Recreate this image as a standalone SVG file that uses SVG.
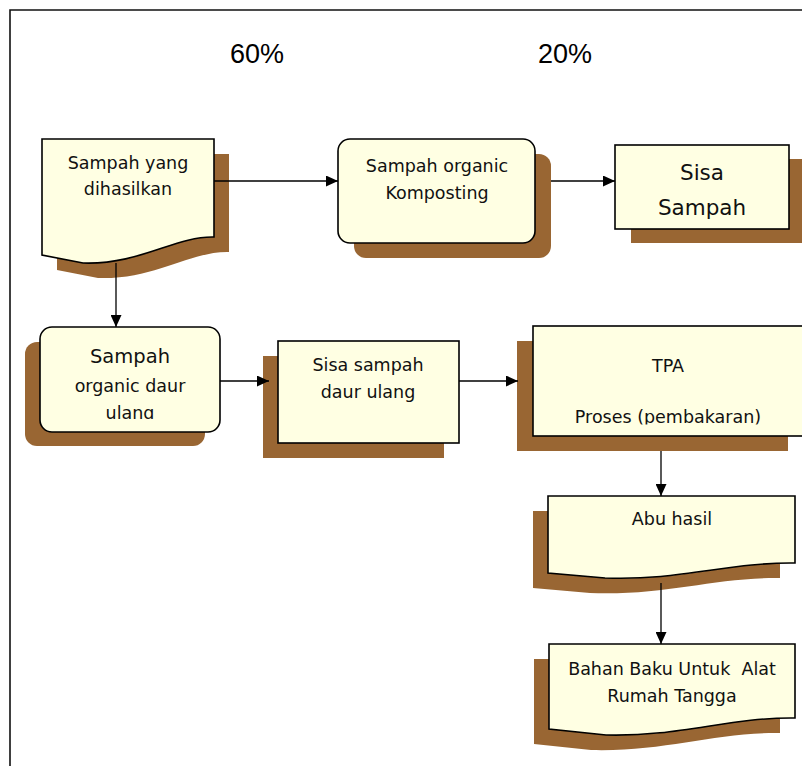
<svg xmlns="http://www.w3.org/2000/svg" xmlns:xlink="http://www.w3.org/1999/xlink" width="802" height="766" viewBox="0 0 802 766">
<style>
.face{fill:#FFFFE3;stroke:#000;stroke-width:1.6}
.shadow{fill:#996633;stroke:none}
.t{font-family:"DejaVu Sans",Verdana,sans-serif;font-size:17.5px;fill:#111;text-anchor:middle}
.pct{font-family:"Liberation Sans",Arial,sans-serif;font-size:27px;fill:#000;text-anchor:middle}
.conn line{stroke:#000;stroke-width:1.3}
.frame{stroke:#111;stroke-width:1.6;fill:none}
</style>
<defs>
<marker id="ah" viewBox="0 0 12 11" refX="12" refY="5.5" markerWidth="12" markerHeight="11" markerUnits="userSpaceOnUse" orient="auto">
<path d="M0,0 L12,5.5 L0,11 Z" fill="#000"/>
</marker>
<path id="doc1" d="M42,139 H214 V237 C175,236 140,265 83,263 L42,255 Z"/>
<path id="doc7" d="M548,496 H795 V563 C730,562 680,581 605,578 L548,573 Z"/>
<path id="doc8" d="M549,644 H795 V718 C730,717 680,737 606,735 L549,729 Z"/>
<clipPath id="c4"><rect x="40" y="327" width="180" height="92"/></clipPath>
<clipPath id="c6"><rect x="533" y="326" width="270" height="98.5"/></clipPath>
</defs>
<rect width="802" height="766" fill="#fff"/>
<path class="frame" d="M10,766 V10 H802"/>
<text class="pct" x="257" y="63">60%</text>
<text class="pct" x="565" y="63">20%</text>

<g id="node1">
<use xlink:href="#doc1" class="shadow" transform="translate(15,15)"/>
<use xlink:href="#doc1" class="face"/>
<text class="t" x="128" y="169">Sampah yang</text>
<text class="t" x="128" y="195">dihasilkan</text>
</g>

<g id="node2">
<rect class="shadow" x="354" y="154" width="197" height="104" rx="12"/>
<rect class="face" x="338" y="139" width="197" height="104" rx="12"/>
<text class="t" x="437" y="172">Sampah organic</text>
<text class="t" x="437" y="199">Komposting</text>
</g>

<g id="node3">
<rect class="shadow" x="631" y="159" width="173" height="84"/>
<rect class="face" x="615" y="145" width="174" height="84"/>
<text class="t" x="702" y="180" style="font-size:21.5px">Sisa</text>
<text class="t" x="702" y="215" style="font-size:21.5px">Sampah</text>
</g>

<g id="node4">
<rect class="shadow" x="25" y="342" width="180" height="104" rx="12"/>
<rect class="face" x="40" y="327" width="180" height="105" rx="12"/>
<g clip-path="url(#c4)">
<text class="t" x="130" y="363" style="font-size:19.5px">Sampah</text>
<text class="t" x="130" y="392">organic daur</text>
<text class="t" x="130" y="419">ulang</text>
</g>
</g>

<g id="node5">
<rect class="shadow" x="263" y="356" width="181" height="102"/>
<rect class="face" x="278" y="341" width="181" height="102"/>
<text class="t" x="368" y="371">Sisa sampah</text>
<text class="t" x="368" y="398">daur ulang</text>
</g>

<g id="node6">
<rect class="shadow" x="517" y="341" width="271" height="110"/>
<rect class="face" x="533" y="326" width="272" height="110"/>
<g clip-path="url(#c6)">
<text class="t" x="668" y="372">TPA</text>
<text class="t" x="668" y="423">Proses (pembakaran)</text>
</g>
</g>

<g id="node7">
<use xlink:href="#doc7" class="shadow" transform="translate(-15,15)"/>
<use xlink:href="#doc7" class="face"/>
<text class="t" x="672" y="525">Abu hasil</text>
</g>

<g id="node8">
<use xlink:href="#doc8" class="shadow" transform="translate(-15,15)"/>
<use xlink:href="#doc8" class="face"/>
<text class="t" x="672" y="675" xml:space="preserve" style="white-space:pre">Bahan Baku Untuk  Alat</text>
<text class="t" x="672" y="702">Rumah Tangga</text>
</g>

<g id="connectors" class="conn">
<line x1="214" y1="181" x2="338" y2="181" marker-end="url(#ah)"/>
<line x1="551" y1="181" x2="615" y2="181" marker-end="url(#ah)"/>
<line x1="116" y1="263" x2="116" y2="327" marker-end="url(#ah)"/>
<line x1="220" y1="381" x2="269" y2="381" marker-end="url(#ah)"/>
<line x1="459" y1="381" x2="518" y2="381" marker-end="url(#ah)"/>
<line x1="661" y1="451" x2="661" y2="496" marker-end="url(#ah)"/>
<line x1="661" y1="583" x2="661" y2="644" marker-end="url(#ah)"/>
</g>
</svg>
